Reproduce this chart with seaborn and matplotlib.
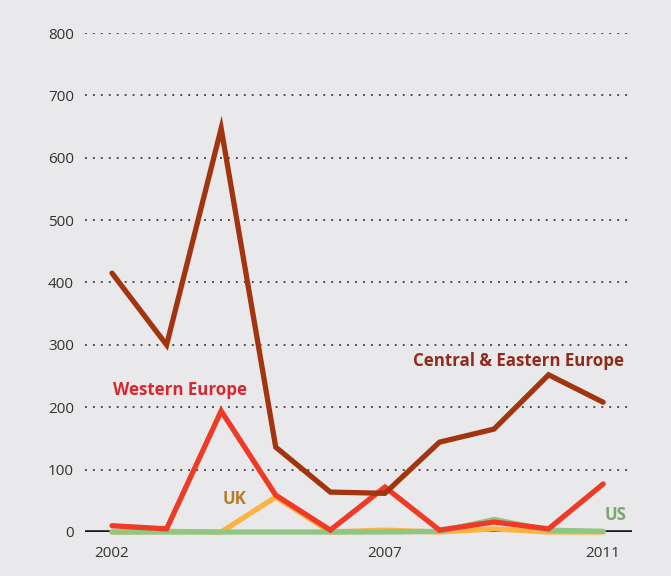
import matplotlib
matplotlib.use("Agg")
import matplotlib.pyplot as plt
import seaborn as sns
import pandas as pd

years = [2002, 2003, 2004, 2005, 2006, 2007, 2008, 2009, 2010, 2011]
central_eastern = [415, 300, 647, 136, 64, 62, 144, 165, 252, 208]
western = [10, 5, 194, 59, 3, 72, 3, 16, 5, 77]
uk = [0, 1, 0, 56, 0, 3, 0, 5, 0, 0]
us = [0, 0, 0, 0, 0, 0, 1, 20, 3, 1]

series_names = ["UK", "US", "Western Europe", "Central & Eastern Europe"]
line_colors = ["#fbb343", "#8fc682", "#ef3a25", "#a2350f"]
label_colors = ["#b97c2c", "#79a86a", "#d9272f", "#8e2b1b"]
y_ticks = [0, 100, 200, 300, 400, 500, 600, 700, 800]
x_ticks = [2002, 2007, 2011]

df = pd.DataFrame({
    "year": years * 4,
    "value": uk + us + western + central_eastern,
    "region": sum([[n] * len(years) for n in series_names], []),
})

sns.set_theme(style="white")
plt.rcParams["font.family"] = ["Open Sans", "DejaVu Sans"]
bg = "#e9e9eb"

fig = plt.figure(figsize=(6.71, 5.76), dpi=100, facecolor=bg)
ax = fig.add_axes([0.1267, 0.0764, 0.8153, 0.8663], facecolor=bg)

sns.lineplot(data=df, x="year", y="value", hue="region",
             hue_order=series_names, palette=line_colors,
             linewidth=3.8, legend=False, ax=ax, clip_on=False,
             solid_joinstyle="miter", solid_capstyle="round")

ax.set_xlim(2001.505, 2011.53)
ax.set_ylim(0, 800)
ax.set_yticks(y_ticks)
ax.set_xticks(x_ticks)
ax.set_xticklabels([str(t) for t in x_ticks])
ax.set_xlabel("")
ax.set_ylabel("")

for t in y_ticks[1:]:
    ax.axhline(t, color="#3a3a3a", linewidth=1.3, linestyle=(0, (1, 3.4)), zorder=0)
ax.axhline(0, color="#1a1a1a", linewidth=2.6, zorder=1)

for s in ax.spines.values():
    s.set_visible(False)
ax.tick_params(axis="both", length=0, labelsize=11, colors="#333333")
ax.tick_params(axis="y", pad=8)
ax.tick_params(axis="x", pad=10)

label_pos = {
    "UK": (2004.25, 53),
    "US": (2011.22, 27),
    "Western Europe": (2003.25, 228),
    "Central & Eastern Europe": (2009.44, 274),
}
for name, col in zip(series_names, label_colors):
    x, y = label_pos[name]
    ax.text(x, y, name, color=col, fontsize=12.2, fontweight="bold",
            ha="center", va="center")

fig.savefig("out.png", dpi=100, facecolor=bg)
